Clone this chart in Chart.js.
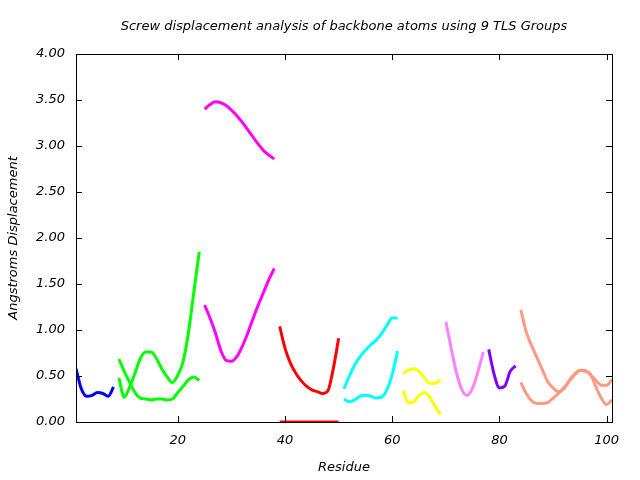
<!DOCTYPE html>
<html>
<head>
<meta charset="utf-8">
<script src="https://cdn.jsdelivr.net/npm/chart.js@4/dist/chart.umd.min.js"></script>
<style>
  html, body { margin: 0; padding: 0; background: #fff; }
  canvas { display: block; }
</style>
</head>
<body>
<canvas id="screwChart" width="640" height="480"></canvas>
<script>
// tick labels
var xTicks = [20, 40, 60, 80, 100];

// residue numbers per TLS group
var resBlue    = [1, 2, 3, 4, 5, 6, 7, 8];
var resGreen   = [9, 10, 11, 12, 13, 14, 15, 16, 17, 18, 19, 20, 21, 22, 23, 24];
var resMagenta = [25, 26, 27, 28, 29, 30, 31, 32, 33, 34, 35, 36, 37, 38];
var resRed     = [39, 40, 41, 42, 43, 44, 45, 46, 47, 48, 49, 50];
var resCyan    = [51, 52, 53, 54, 55, 56, 57, 58, 59, 60, 61];
var resYellow  = [62, 63, 64, 65, 66, 67, 68, 69];
var resPink    = [70, 71, 72, 73, 74, 75, 76, 77];
var resPurple  = [78, 79, 80, 81, 82, 83];
var resSalmon  = [84, 85, 86, 87, 88, 89, 90, 91, 92, 93, 94, 95, 96, 97, 98, 99, 100, 101];

// screw displacement values (Angstroms)
var blue1    = [0.58, 0.36, 0.28, 0.29, 0.32, 0.31, 0.28, 0.38];
var green1   = [0.685, 0.55, 0.43, 0.32, 0.26, 0.25, 0.24, 0.25, 0.25, 0.24, 0.25, 0.32, 0.39, 0.46, 0.49, 0.45];
var green2   = [0.48, 0.27, 0.38, 0.53, 0.69, 0.76, 0.76, 0.69, 0.58, 0.49, 0.43, 0.51, 0.66, 0.98, 1.42, 1.85];
var magenta1 = [3.40, 3.45, 3.48, 3.47, 3.44, 3.39, 3.33, 3.26, 3.18, 3.10, 3.02, 2.95, 2.90, 2.86];
var magenta2 = [1.27, 1.13, 0.97, 0.78, 0.67, 0.66, 0.71, 0.82, 0.96, 1.12, 1.27, 1.41, 1.55, 1.67];
var red1     = [1.04, 0.80, 0.64, 0.53, 0.45, 0.39, 0.35, 0.33, 0.31, 0.34, 0.58, 0.91];
var red2     = [0, 0, 0, 0, 0, 0, 0, 0, 0, 0, 0, 0];
var cyan1    = [0.36, 0.50, 0.62, 0.71, 0.78, 0.84, 0.89, 0.96, 1.05, 1.13, 1.13];
var cyan2    = [0.25, 0.22, 0.24, 0.28, 0.29, 0.28, 0.26, 0.27, 0.35, 0.52, 0.77];
var yellow1  = [0.53, 0.56, 0.58, 0.55, 0.48, 0.42, 0.42, 0.46];
var yellow2  = [0.34, 0.21, 0.22, 0.29, 0.32, 0.27, 0.17, 0.08];
var pink1    = [1.09, 0.80, 0.53, 0.35, 0.29, 0.37, 0.55, 0.76];
var purple1  = [0.79, 0.52, 0.37, 0.39, 0.55, 0.61];
var salmon1  = [1.22, 0.98, 0.83, 0.70, 0.57, 0.44, 0.37, 0.33, 0.36, 0.45, 0.52, 0.56, 0.55, 0.52, 0.38, 0.26, 0.19, 0.24];
var salmon2  = [0.43, 0.31, 0.23, 0.20, 0.20, 0.21, 0.26, 0.31, 0.37, 0.44, 0.51, 0.56, 0.56, 0.51, 0.45, 0.40, 0.40, 0.46];

var fontBase = { family: "'DejaVu Sans', sans-serif", style: 'italic', size: 13, weight: 'normal' };

function curve(res, vals, color) {
    return {
        data: res.map((r, i) => ({ x: r, y: vals[i] })),
        borderColor: color,
        backgroundColor: color,
        borderWidth: 3,
        pointRadius: 0,
        showLine: true,
        fill: false,
        cubicInterpolationMode: 'monotone'
    };
}

var datasets = [
    curve(resBlue, blue1, '#0000ff'),
    curve(resGreen, green1, '#00ff00'),
    curve(resGreen, green2, '#00ff00'),
    curve(resMagenta, magenta1, '#ff00ff'),
    curve(resMagenta, magenta2, '#ff00ff'),
    curve(resRed, red1, '#ff0000'),
    curve(resRed, red2, '#ff0000'),
    curve(resCyan, cyan1, '#00ffff'),
    curve(resCyan, cyan2, '#00ffff'),
    curve(resYellow, yellow1, '#ffff00'),
    curve(resYellow, yellow2, '#ffff00'),
    curve(resPink, pink1, '#ff80ff'),
    curve(resPurple, purple1, '#8000ff'),
    curve(resSalmon, salmon1, '#ff9980'),
    curve(resSalmon, salmon2, '#ff9980')
];

// gnuplot style frame with inward ticks on all sides
var framePlugin = {
    id: 'frame',
    afterDatasetsDraw: (chart) => {
        var ctx = chart.ctx, a = chart.chartArea;
        var xs = chart.scales.x, ys = chart.scales.y;
        var len = 6;
        ctx.save();
        ctx.strokeStyle = '#000';
        ctx.lineWidth = 1;
        ctx.beginPath();
        xs.ticks.forEach((t) => {
            var px = Math.round(xs.getPixelForValue(t.value)) + 0.5;
            ctx.moveTo(px, a.bottom); ctx.lineTo(px, a.bottom - len);
            ctx.moveTo(px, a.top); ctx.lineTo(px, a.top + len);
        });
        ys.ticks.forEach((t) => {
            var py = Math.round(ys.getPixelForValue(t.value)) + 0.5;
            ctx.moveTo(a.left, py); ctx.lineTo(a.left + len, py);
            ctx.moveTo(a.right, py); ctx.lineTo(a.right - len, py);
        });
        ctx.stroke();
        ctx.strokeRect(Math.round(a.left) + 0.5, Math.round(a.top) + 0.5,
            Math.round(a.right - a.left), Math.round(a.bottom - a.top));
        ctx.restore();
    }
};

var ctx = document.getElementById('screwChart').getContext('2d');
var myChart = new Chart(ctx, {
    type: 'scatter',
    data: { datasets: datasets },
    plugins: [framePlugin],
    options: {
        responsive: false,
        animation: false,
        devicePixelRatio: 1,
        layout: { padding: { left: 0, right: 28, top: 0, bottom: 0 } },
        plugins: {
            legend: { display: false },
            tooltip: { enabled: false },
            title: {
                display: true,
                fullSize: false,
                text: 'Screw displacement analysis of backbone atoms using 9 TLS Groups',
                color: '#000',
                font: fontBase,
                padding: { top: 19, bottom: 19.4 }
            }
        },
        scales: {
            x: {
                type: 'linear',
                min: 1,
                max: 101,
                grid: { display: false, drawTicks: false },
                border: { display: false },
                afterBuildTicks: (scale) => {
                    scale.ticks = xTicks.map((v) => ({ value: v }));
                },
                afterFit: (scale) => { scale.height = 58; },
                ticks: {
                    color: '#000',
                    font: fontBase,
                    padding: 11,
                    maxRotation: 0,
                    callback: (v) => String(v)
                },
                title: {
                    display: true,
                    text: 'Residue',
                    color: '#000',
                    font: fontBase,
                    padding: { top: 0, bottom: 5 }
                }
            },
            y: {
                type: 'linear',
                min: 0,
                max: 4,
                grid: { display: false, drawTicks: false },
                border: { display: false },
                afterFit: (scale) => { scale.width = 76; },
                ticks: {
                    stepSize: 0.5,
                    color: '#000',
                    font: fontBase,
                    padding: 11,
                    callback: (v) => v.toFixed(2)
                },
                title: {
                    display: true,
                    text: 'Angstroms Displacement',
                    color: '#000',
                    font: fontBase,
                    padding: { top: 6, bottom: 0 }
                }
            }
        }
    }
});
</script>
</body>
</html>
